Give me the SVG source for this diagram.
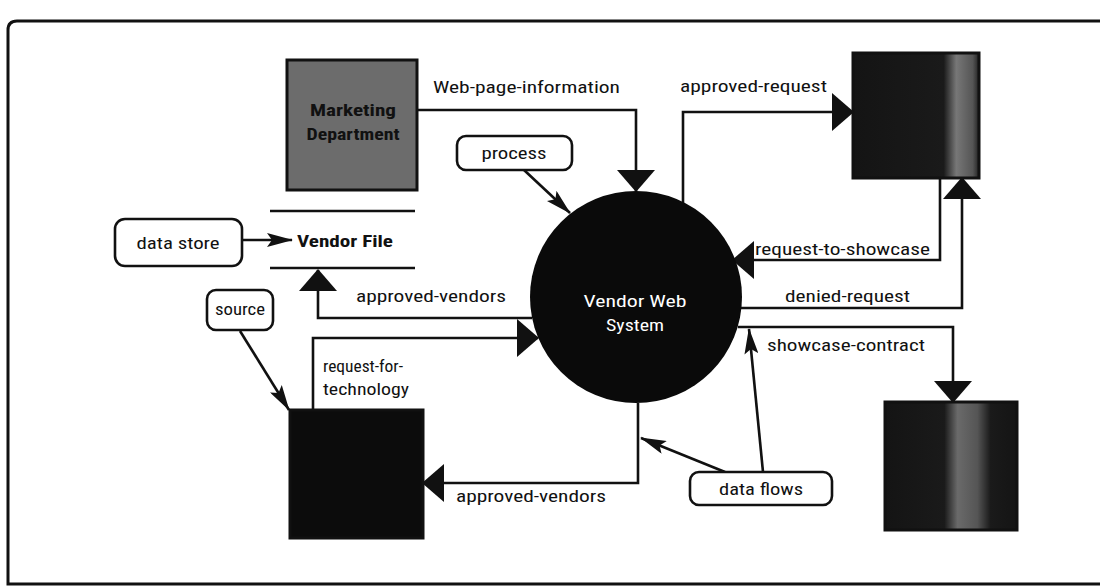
<svg xmlns="http://www.w3.org/2000/svg" width="1100" height="588" viewBox="0 0 1100 588">
  <style>
    .frame { fill: #ffffff; stroke: #111; stroke-width: 3; }
    .flow { fill: none; stroke: #111; stroke-width: 2.6; stroke-linejoin: miter; }
    .note { fill: none; stroke: #111; stroke-width: 2.6; }
    .callout { fill: #ffffff; stroke: #111; stroke-width: 2.6; }
    .store { stroke: #111; stroke-width: 2.6; }
    .lbl { font-family: "Liberation Sans Narrow", "Roboto Condensed", "Liberation Sans", sans-serif; font-size: 17px; fill: #111; }
    .bold { font-weight: bold; }
    .white { fill: #ffffff; }
    .ext { stroke: #111; stroke-width: 3; }
  </style>
  <defs>
    <!-- large solid triangle used on data flows -->
    <marker id="big" markerUnits="userSpaceOnUse" markerWidth="22" markerHeight="38" viewBox="0 0 22 38" refX="21" refY="19" orient="auto">
      <path d="M0,0 L22,19 L0,38 Z" fill="#111"/>
    </marker>
    <!-- slim pointer used on the legend callouts -->
    <marker id="pointer" markerUnits="userSpaceOnUse" markerWidth="26" markerHeight="14" viewBox="0 0 26 14" refX="25" refY="7" orient="auto">
      <path d="M0,0 L26,7 L0,14 L5,7 Z" fill="#111"/>
    </marker>
    <linearGradient id="bandRight" x1="0" y1="0" x2="1" y2="0">
      <stop offset="0" stop-color="#141414"/>
      <stop offset="0.72" stop-color="#1a1a1a"/>
      <stop offset="0.82" stop-color="#777"/>
      <stop offset="0.95" stop-color="#555"/>
      <stop offset="1" stop-color="#222"/>
    </linearGradient>
    <linearGradient id="bandMid" x1="0" y1="0" x2="1" y2="0">
      <stop offset="0" stop-color="#141414"/>
      <stop offset="0.45" stop-color="#1a1a1a"/>
      <stop offset="0.55" stop-color="#6a6a6a"/>
      <stop offset="0.7" stop-color="#555"/>
      <stop offset="0.8" stop-color="#1a1a1a"/>
      <stop offset="1" stop-color="#141414"/>
    </linearGradient>
  </defs>

  <!-- outer frame -->
  <path class="frame" d="M1104,21 H17 Q8,21 8,30 V584 H1104"/>

  <!-- connectors -->
  <g id="connectors">
    <path class="flow" d="M417,110 H636 V191" marker-end="url(#big)"/>
    <path class="flow" d="M683,203 V112 H853" marker-end="url(#big)"/>
    <path class="flow" d="M940,178 V260 H733" marker-end="url(#big)"/>
    <path class="flow" d="M741,308 H962 V178" marker-end="url(#big)"/>
    <path class="flow" d="M738,327 H953 V402" marker-end="url(#big)"/>
    <path class="flow" d="M638,403 V483 H423" marker-end="url(#big)"/>
    <path class="flow" d="M313,410 V338 H538" marker-end="url(#big)"/>
    <path class="flow" d="M532,318 H318 V270" marker-end="url(#big)"/>
    <path class="note" d="M242,240 H292" marker-end="url(#pointer)"/>
    <path class="note" d="M524,170 L570,213" marker-end="url(#pointer)"/>
    <path class="note" d="M240,331 L289,410" marker-end="url(#pointer)"/>
    <path class="note" d="M725,472 L641,438" marker-end="url(#pointer)"/>
    <path class="note" d="M763,472 L749,329" marker-end="url(#pointer)"/>
  </g>

  <!-- flow labels -->
  <g id="flow-labels">
    <text class="lbl" x="433" y="93" textLength="187" lengthAdjust="spacingAndGlyphs">Web-page-information</text>
    <text class="lbl" x="680" y="92" textLength="147" lengthAdjust="spacingAndGlyphs">approved-request</text>
    <text class="lbl" x="755" y="255" textLength="175" lengthAdjust="spacingAndGlyphs">request-to-showcase</text>
    <text class="lbl" x="785" y="302" textLength="125" lengthAdjust="spacingAndGlyphs">denied-request</text>
    <text class="lbl" x="767" y="351" textLength="158" lengthAdjust="spacingAndGlyphs">showcase-contract</text>
    <text class="lbl" x="356" y="302" textLength="150" lengthAdjust="spacingAndGlyphs">approved-vendors</text>
    <text class="lbl" x="456" y="502" textLength="150" lengthAdjust="spacingAndGlyphs">approved-vendors</text>
    <text class="lbl" x="323" y="372" textLength="80" lengthAdjust="spacingAndGlyphs">request-for-</text>
    <text class="lbl" x="323" y="395" textLength="86" lengthAdjust="spacingAndGlyphs">technology</text>
  </g>

  <!-- external entity: marketing -->
  <g id="marketing">
    <rect class="ext" x="287" y="60" width="130" height="130" fill="#6c6c6c"/>
    <text class="lbl bold" x="353" y="116" text-anchor="middle" textLength="86" lengthAdjust="spacingAndGlyphs" fill="#141414">Marketing</text>
    <text class="lbl bold" x="353" y="140" text-anchor="middle" textLength="93" lengthAdjust="spacingAndGlyphs" fill="#141414">Department</text>
  </g>

  <!-- external entity: top right -->
  <g id="entity-top-right">
    <rect class="ext" x="853" y="53" width="126" height="125" fill="url(#bandRight)"/>
  </g>

  <!-- external entity: bottom right -->
  <g id="entity-bottom-right">
    <rect class="ext" x="885" y="402" width="132" height="128" fill="url(#bandMid)"/>
  </g>

  <!-- external entity: bottom left -->
  <g id="entity-bottom-left">
    <rect class="ext" x="290" y="410" width="133" height="128" fill="#0c0c0c"/>
  </g>

  <!-- data store -->
  <g id="vendor-file">
    <line class="store" x1="270" y1="211" x2="415" y2="211"/>
    <line class="store" x1="270" y1="268" x2="415" y2="268"/>
    <text class="lbl bold" x="297" y="247" textLength="96" lengthAdjust="spacingAndGlyphs">Vendor File</text>
  </g>

  <!-- process -->
  <g id="vendor-web-system">
    <circle cx="636" cy="297" r="106" fill="#0a0a0a"/>
    <text class="lbl white" x="635" y="307" text-anchor="middle" textLength="103" lengthAdjust="spacingAndGlyphs">Vendor Web</text>
    <text class="lbl white" x="635" y="331" text-anchor="middle" textLength="58" lengthAdjust="spacingAndGlyphs">System</text>
  </g>

  <!-- legend callouts -->
  <g id="callout-process">
    <rect class="callout" x="457" y="136" width="115" height="34" rx="9"/>
    <text class="lbl" x="514" y="159" text-anchor="middle" textLength="65" lengthAdjust="spacingAndGlyphs">process</text>
  </g>
  <g id="callout-data-store">
    <rect class="callout" x="115" y="219" width="127" height="47" rx="10"/>
    <text class="lbl" x="178" y="249" text-anchor="middle" textLength="83" lengthAdjust="spacingAndGlyphs">data store</text>
  </g>
  <g id="callout-source">
    <rect class="callout" x="207" y="290" width="66" height="40" rx="9"/>
    <text class="lbl" x="240" y="315" text-anchor="middle" textLength="50" lengthAdjust="spacingAndGlyphs">source</text>
  </g>
  <g id="callout-data-flows">
    <rect class="callout" x="690" y="472" width="142" height="33" rx="9"/>
    <text class="lbl" x="761" y="495" text-anchor="middle" textLength="84" lengthAdjust="spacingAndGlyphs">data flows</text>
  </g>
</svg>
